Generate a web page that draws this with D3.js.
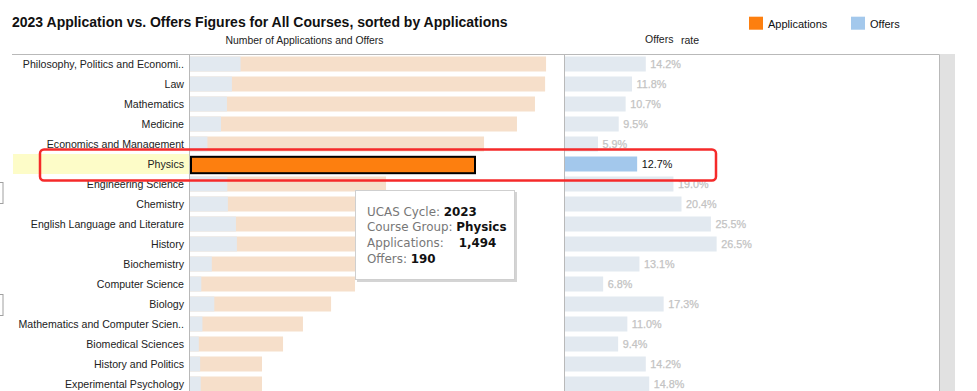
<!DOCTYPE html>
<html><head><meta charset="utf-8">
<script src="https://cdn.jsdelivr.net/npm/d3@7"></script>
<style>html,body{margin:0;padding:0;background:#fff;overflow:hidden}</style>
</head><body>
<svg id="c" width="977" height="391"></svg>
<script>
const categories = ["Philosophy, Politics and Economi..","Law","Mathematics","Medicine","Economics and Management","Physics","Engineering Science","Chemistry","English Language and Literature","History","Biochemistry","Computer Science","Biology","Mathematics and Computer Scien..","Biomedical Sciences","History and Politics","Experimental Psychology"];
const applications = [1860,1855,1802,1708,1536,1494,1024,971,942,926,870,862,737,590,486,376,376];
const offers = [264,219,193,162,91,190,195,198,240,245,114,59,127,65,46,53,56];
const offerRates = [14.2,11.8,10.7,9.5,5.9,12.7,19.0,20.4,25.5,26.5,13.1,6.8,17.3,11.0,9.4,14.2,14.8];
const highlighted = "Physics";
const tooltipLines = [["UCAS Cycle: ","2023"],["Course Group: ","Physics"],["Applications:    ","1,494"],["Offers: ","190"]];

const svg = d3.select("#c");
const F = "'Liberation Sans', Arial, sans-serif";

const y = d3.scaleBand().domain(categories).range([54, 54 + 20*categories.length]).paddingInner(0.25).paddingOuter(0.125);
const x = d3.scaleLinear().domain([0, 2000]).range([190, 190 + 2000*286/1494]);
const xr = d3.scaleLinear().domain([0, 30]).range([564, 564 + 30*5.76]);

// title
svg.append("text").attr("x", 12).attr("y", 27).attr("font-family", F).attr("font-weight", "bold").attr("font-size", 14).attr("fill", "#111").text("2023 Application vs. Offers Figures for All Courses, sorted by Applications");
svg.append("text").attr("x", 304.5).attr("y", 43.5).attr("text-anchor", "middle").attr("font-family", F).attr("font-size", 10.4).attr("fill", "#222").text("Number of Applications and Offers");
svg.append("text").attr("x", 645).attr("y", 42.5).attr("font-family", F).attr("font-size", 10.5).attr("fill", "#222").text("Offers");
svg.append("text").attr("x", 681).attr("y", 44).attr("font-family", F).attr("font-size", 10.5).attr("fill", "#222").text("rate");

// legend
const legend = [["Applications", "#fd7f0f", 749], ["Offers", "#a3c8ec", 851]];
legend.forEach(([t, c, lx]) => {
  svg.append("rect").attr("x", lx).attr("y", 16.7).attr("width", 14).attr("height", 13).attr("fill", c);
  svg.append("text").attr("x", lx + 19).attr("y", 28).attr("font-family", F).attr("font-size", 11).attr("fill", "#111").text(t);
});

// highlight band
svg.append("rect").attr("x", 13).attr("y", y(highlighted) - 2.5).attr("width", 176).attr("height", 20).attr("fill", "#fdfcc8");

// scroll strip
svg.append("rect").attr("x", 940).attr("y", 54).attr("width", 15).attr("height", 340).attr("fill", "#e1e1e1");

const rows = categories.map((c, i) => ({c, a: applications[i], o: offers[i], r: offerRates[i]}));

// apps bars
svg.append("g").selectAll("rect").data(rows.filter(d => d.c !== highlighted)).join("rect")
  .attr("x", x(0)).attr("y", d => y(d.c)).attr("width", d => x(d.a) - x(0)).attr("height", y.bandwidth()).attr("fill", "#f6dfca");
// offers bars
svg.append("g").selectAll("rect").data(rows.filter(d => d.c !== highlighted)).join("rect")
  .attr("x", x(0)).attr("y", d => y(d.c)).attr("width", d => x(d.o) - x(0)).attr("height", y.bandwidth()).attr("fill", "#e2e9f0");
// highlighted
const h = rows.find(d => d.c === highlighted);
svg.append("rect").attr("x", x(0) + 1).attr("y", y(h.c) + 0.3).attr("width", x(h.a) - x(0) - 2).attr("height", y.bandwidth() + 1.4)
  .attr("fill", "#fd7f0f").attr("stroke", "#000").attr("stroke-width", 2);

// rate bars
svg.append("g").selectAll("rect").data(rows).join("rect")
  .attr("x", xr(0)).attr("y", d => y(d.c)).attr("width", d => xr(d.r) - xr(0)).attr("height", y.bandwidth())
  .attr("fill", d => d.c === highlighted ? "#a3c8ec" : "#e2e9f0");
svg.append("g").selectAll("text").data(rows).join("text")
  .attr("x", d => xr(d.r) + 4.5).attr("y", d => y(d.c) + y.bandwidth()/2 + 3.8)
  .attr("font-family", F).attr("font-size", 10.8)
  .attr("fill", d => d.c === highlighted ? "#111" : "#c3c3c3")
  .attr("stroke", d => d.c === highlighted ? "none" : "#c3c3c3").attr("stroke-width", 0.25)
  .text(d => d.r.toFixed(1) + "%");

// category labels
svg.append("g").selectAll("text").data(rows).join("text")
  .attr("x", 184).attr("y", d => y(d.c) + y.bandwidth()/2 + 3.9).attr("text-anchor", "end")
  .attr("font-family", F).attr("font-size", 10.6).attr("fill", "#222").text(d => d.c);

// grid lines
const g = svg.append("g").attr("stroke", "#b9b9b9").attr("stroke-width", 1).attr("fill", "none");
g.append("line").attr("x1", 12).attr("x2", 939.5).attr("y1", 54.5).attr("y2", 54.5);
g.append("line").attr("x1", 189.5).attr("x2", 189.5).attr("y1", 54.5).attr("y2", 391);
g.append("line").attr("x1", 564.5).attr("x2", 564.5).attr("y1", 54.5).attr("y2", 391);
g.append("line").attr("x1", 939.5).attr("x2", 939.5).attr("y1", 54.5).attr("y2", 391);

// left edge stubs
[182, 294].forEach(sy => svg.append("rect").attr("x", -5).attr("y", sy + 0.5).attr("width", 8).attr("height", 21).attr("fill", "#fff").attr("stroke", "#a0a0a0"));

// red callout
svg.append("rect").attr("x", 40).attr("y", 149.5).attr("width", 676).attr("height", 31).attr("rx", 4)
  .attr("fill", "none").attr("stroke", "#f52a2a").attr("stroke-width", 2.5);

// tooltip
const tt = svg.append("g");
tt.append("rect").attr("x", 357).attr("y", 192).attr("width", 160).attr("height", 90).attr("fill", "#d4d4d4");
tt.append("rect").attr("x", 355.5).attr("y", 190.5).attr("width", 159).attr("height", 89).attr("fill", "#fff").attr("stroke", "#cfcfcf");
const TF = "'DejaVu Sans', Verdana, sans-serif";
tooltipLines.forEach(([k, v], i) => {
  const t = tt.append("text").attr("x", 367).attr("y", 215.5 + i*15.8).attr("font-family", TF).attr("font-size", 11.9).attr("xml:space", "preserve").style("white-space", "pre");
  t.append("tspan").attr("fill", "#777").text(k);
  t.append("tspan").attr("fill", "#111").attr("font-weight", "bold").text(v);
});
</script>
</body></html>
